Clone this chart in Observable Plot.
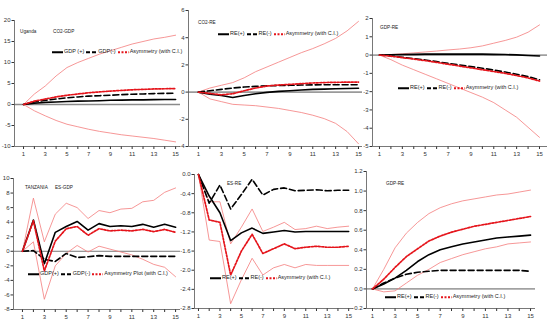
<!DOCTYPE html>
<html><head><meta charset="utf-8">
<script src="https://cdn.jsdelivr.net/npm/d3@7"></script>
<script src="https://cdn.jsdelivr.net/npm/@observablehq/plot@0.6"></script>
<style>
body{margin:0;background:#fff;}
#wrap{position:relative;width:550px;height:328px;overflow:hidden;font-family:"Liberation Sans Narrow","Liberation Sans",Arial,sans-serif;}
#wrap svg.plotsvg{position:absolute;left:0;top:0;}
.lbl{position:absolute;font-size:5.5px;color:#222;white-space:nowrap;line-height:1;transform:translateY(-50%) scaleX(0.85);transform-origin:left center;}
.leg{position:absolute;font-size:5.5px;color:#222;white-space:nowrap;display:flex;align-items:center;line-height:1;transform:translateY(-50%);}
.leg svg{display:block;margin-right:1px;}
.leg span{margin-right:2px;}
</style></head><body><div id="wrap"></div><script>
// ---------- data ----------
const steps = [1,2,3,4,5,6,7,8,9,10,11,12,13,14,15];

// Uganda CO2-GDP
const ugCo2Gdp_pos   = [0,0.3,0.5,0.6,0.7,0.8,0.85,0.9,1.0,1.05,1.1,1.1,1.15,1.2,1.2];
const ugCo2Gdp_neg   = [0,0.6,1.0,1.3,1.6,1.8,2.0,2.1,2.2,2.35,2.45,2.5,2.6,2.65,2.7];
const ugCo2Gdp_asym  = [0,0.8,1.3,1.8,2.2,2.5,2.8,3.0,3.2,3.35,3.5,3.6,3.7,3.75,3.8];
const ugCo2Gdp_upper = [0,2.5,4.4,6.8,8.8,10,11,12,12.8,13.6,14.4,15,15.6,16,16.5];
const ugCo2Gdp_lower = [0,-1.5,-2.7,-3.8,-4.7,-5.3,-5.9,-6.4,-6.8,-7.2,-7.5,-7.8,-8.1,-8.5,-8.9];
const ugCo2Gdp_ticks = [-10,-5,0,5,10,15,20];

// Uganda CO2-RE
const ugCo2Re_pos   = [0,-0.15,-0.25,-0.4,-0.25,-0.12,-0.02,0.05,0.1,0.15,0.2,0.22,0.25,0.27,0.28];
const ugCo2Re_neg   = [0,0.1,0.2,0.3,0.37,0.42,0.46,0.48,0.5,0.52,0.53,0.54,0.54,0.54,0.54];
const ugCo2Re_asym  = [0,-0.1,-0.2,-0.12,0.1,0.3,0.45,0.52,0.57,0.62,0.67,0.7,0.72,0.73,0.74];
const ugCo2Re_upper = [0,0.3,0.5,0.7,1.05,1.5,1.85,2.2,2.55,2.9,3.2,3.55,3.95,4.5,5.2];
const ugCo2Re_lower = [0,-0.5,-0.7,-0.9,-0.95,-1.0,-1.1,-1.2,-1.35,-1.5,-1.7,-1.95,-2.3,-2.9,-3.8];
const ugCo2Re_ticks = [-4,-2,0,2,4,6];

// Uganda GDP-RE
const ugGdpRe_pos   = [0,0.02,0.03,0.04,0.05,0.05,0.05,0.05,0.05,0.05,0.04,0.03,0.01,-0.02,-0.05];
const ugGdpRe_neg   = [0,-0.05,-0.12,-0.2,-0.27,-0.36,-0.45,-0.54,-0.63,-0.72,-0.82,-0.93,-1.05,-1.18,-1.35];
const ugGdpRe_asym  = [0,-0.06,-0.14,-0.22,-0.3,-0.4,-0.5,-0.6,-0.7,-0.8,-0.9,-1.0,-1.12,-1.25,-1.42];
const ugGdpRe_upper = [0,0.03,0.07,0.12,0.17,0.22,0.28,0.33,0.4,0.5,0.65,0.8,0.98,1.25,1.65];
const ugGdpRe_lower = [0,-0.25,-0.55,-0.8,-1.05,-1.3,-1.55,-1.8,-2.05,-2.3,-2.6,-3.0,-3.4,-3.95,-4.5];
const ugGdpRe_ticks = [-5,-4,-3,-2,-1,0,1,2];

// Tanzania ES-GDP
const tzEsGdp_pos   = [0,4.3,-1.7,2.6,3.4,4.1,2.9,3.8,3.4,3.5,3.4,3.7,3.3,3.7,3.3];
const tzEsGdp_neg   = [0,0.1,-1.1,-1.4,-0.3,-0.85,-0.75,-0.6,-0.7,-0.7,-0.7,-0.7,-0.7,-0.7,-0.7];
const tzEsGdp_asym  = [0,4.2,-2.7,1.4,3.1,3.4,2.2,3.1,2.8,2.9,2.8,3.0,2.7,3.0,2.6];
const tzEsGdp_upper = [0,7.3,1.3,5.1,6.6,6.0,4.5,5.6,5.3,5.8,5.9,6.8,7.0,8.1,8.7];
const tzEsGdp_lower = [0,1.3,-6.6,-2.0,-0.3,0.8,-0.1,0.7,0.3,-0.1,-0.5,-1.1,-1.8,-2.2,-3.5];
const tzEsGdp_ticks = [-8,-6,-4,-2,0,2,4,6,8,10];

// Tanzania ES-RE
const tzEsRe_pos   = [0,-0.45,-0.8,-1.38,-1.22,-1.12,-1.23,-1.2,-1.17,-1.2,-1.19,-1.19,-1.19,-1.19,-1.19];
const tzEsRe_neg   = [0,-0.6,-0.22,-0.72,-0.42,-0.1,-0.43,-0.31,-0.28,-0.34,-0.33,-0.32,-0.34,-0.33,-0.33];
const tzEsRe_asym  = [0,-0.95,-1.0,-2.1,-1.6,-1.25,-1.65,-1.55,-1.45,-1.55,-1.52,-1.5,-1.52,-1.52,-1.5];
const tzEsRe_upper = [0,-0.57,-0.57,-1.45,-1.1,-0.72,-1.19,-1.1,-1.0,-1.15,-1.13,-1.08,-1.13,-1.1,-1.08];
const tzEsRe_lower = [0,-1.37,-1.4,-2.7,-2.2,-1.75,-2.1,-1.95,-1.88,-1.95,-1.88,-1.9,-1.9,-1.9,-1.9];
const tzEsRe_ticks = [-2.8,-2.4,-2.0,-1.6,-1.2,-0.8,-0.4,0.0];

// Tanzania GDP-RE
const tzGdpRe_pos   = [0,0.05,0.11,0.19,0.28,0.35,0.4,0.43,0.46,0.48,0.5,0.52,0.53,0.54,0.55];
const tzGdpRe_neg   = [0,0.06,0.11,0.15,0.17,0.18,0.19,0.19,0.19,0.19,0.19,0.19,0.19,0.19,0.18];
const tzGdpRe_asym  = [0,0.1,0.22,0.33,0.41,0.49,0.54,0.58,0.61,0.64,0.66,0.68,0.7,0.72,0.74];
const tzGdpRe_upper = [0,0.2,0.42,0.57,0.68,0.77,0.83,0.87,0.9,0.92,0.94,0.96,0.97,0.99,1.01];
const tzGdpRe_lower = [0,-0.03,-0.02,0.06,0.14,0.2,0.27,0.31,0.35,0.38,0.41,0.43,0.46,0.47,0.48];
const tzGdpRe_ticks = [-0.2,0,0.2,0.4,0.6,0.8,1.0,1.2];

// ---------- layout / style ----------
const W = 550, H = 328;
const FONT = '"Liberation Sans Narrow","Liberation Sans",Arial,sans-serif';
const C_POS = "#000", C_ASYM = "#e5141b", C_CI = "#f47c7c";
const DASH_NEG = "6,3", DASH_ASYM = "2,1.5";

const panels = [
  {series:[ugCo2Gdp_pos,ugCo2Gdp_neg,ugCo2Gdp_asym,ugCo2Gdp_upper,ugCo2Gdp_lower], ticks:ugCo2Gdp_ticks,
   y:[-10,20], x:[0.17,15.45], frame:{l:14,r:180,t:20,b:146}, zero:{c:"#8a8a8a",w:1.6}, fmt:d=>String(d),
   labels:[["Uganda",20,32],["CO2-GDP",53,32]],
   legend:{x:52,y:52,names:["GDP (+)","GDP(-)","Asymmetry (with C.I.)"]}},
  {series:[ugCo2Re_pos,ugCo2Re_neg,ugCo2Re_asym,ugCo2Re_upper,ugCo2Re_lower], ticks:ugCo2Re_ticks,
   y:[-4,6], x:[0.13,15.35], frame:{l:188,r:362,t:10,b:146}, zero:{c:"#9a9a9a",w:1.6}, fmt:d=>String(d),
   labels:[["CO2-RE",198,23]],
   legend:{x:218,y:34,names:["RE(+)","RE(-)","Asymmetry (with C.I.)"]}},
  {series:[ugGdpRe_pos,ugGdpRe_neg,ugGdpRe_asym,ugGdpRe_upper,ugGdpRe_lower], ticks:ugGdpRe_ticks,
   y:[-5,2], x:[0.39,15.7], frame:{l:372,r:547,t:18,b:146}, zero:{c:"#a0a0a0",w:1.8}, fmt:d=>String(d),
   labels:[["GDP-RE",380,28]],
   legend:{x:398,y:88,names:["RE(+)","RE(-)","Asymmetry (with C.I.)"]}},
  {series:[tzEsGdp_pos,tzEsGdp_neg,tzEsGdp_asym,tzEsGdp_upper,tzEsGdp_lower], ticks:tzEsGdp_ticks,
   y:[-8,10], x:[0.18,15.45], frame:{l:13,r:180,t:178,b:309}, zero:{c:"#555",w:0.8}, fmt:d=>String(d),
   labels:[["TANZANIA",25,188],["ES-GDP",55,188]],
   legend:{x:28,y:274,names:["GDP(+)","GDP(-)","Asymmetry Plot (with C.I.)"]}},
  {series:[tzEsRe_pos,tzEsRe_neg,tzEsRe_asym,tzEsRe_upper,tzEsRe_lower], ticks:tzEsRe_ticks,
   y:[-2.8,0], x:[0.63,15.45], frame:{l:194,r:353,t:174,b:308}, zero:null, fmt:d=>d.toFixed(1),
   labels:[["ES-RE",227,184]],
   legend:{x:210,y:278,names:["RE(+)","RE(-)","Asymmetry (with C.I.)"]}},
  {series:[tzGdpRe_pos,tzGdpRe_neg,tzGdpRe_asym,tzGdpRe_upper,tzGdpRe_lower], ticks:tzGdpRe_ticks,
   y:[-0.2,1.2], x:[0.47,15.44], frame:{l:366,r:535,t:171,b:308}, zero:{c:"#333",w:0.8}, fmt:d=>d.toFixed(1),
   labels:[["GDP-RE",386,184]],
   legend:{x:385,y:297,names:["RE(+)","RE(-)","Asymmetry (with C.I.)"]}}
];

const wrap = document.getElementById("wrap");
const rowsOf = arr => steps.map((s,i)=>({step:s, v:arr[i]}));

for (const p of panels) {
  const [pos,neg,asym,upper,lower] = p.series;
  const marks = [];
  if (p.zero) marks.push(Plot.ruleY([0], {stroke:p.zero.c, strokeWidth:p.zero.w}));
  marks.push(
    Plot.line(rowsOf(upper), {x:"step", y:"v", stroke:C_CI, strokeWidth:0.8}),
    Plot.line(rowsOf(lower), {x:"step", y:"v", stroke:C_CI, strokeWidth:0.8}),
    Plot.line(rowsOf(pos),   {x:"step", y:"v", stroke:C_POS, strokeWidth:1.6}),
    Plot.line(rowsOf(neg),   {x:"step", y:"v", stroke:C_POS, strokeWidth:1.6, strokeDasharray:DASH_NEG}),
    Plot.line(rowsOf(asym),  {x:"step", y:"v", stroke:C_ASYM, strokeWidth:1.7, strokeDasharray:DASH_ASYM}),
    Plot.ruleX([p.x[0]], {stroke:"#555", strokeWidth:0.8}),
    Plot.ruleY([p.y[0]], {stroke:"#555", strokeWidth:0.8})
  );
  const svg = Plot.plot({
    width:W, height:H,
    marginLeft:p.frame.l, marginRight:W-p.frame.r, marginTop:p.frame.t, marginBottom:H-p.frame.b,
    style:{background:"transparent", fontFamily:FONT, fontSize:"6px", color:"#333", overflow:"visible"},
    x:{domain:p.x, ticks:steps, tickFormat:d=> d%2 ? String(d) : "", tickSize:3, tickPadding:2, label:null},
    y:{domain:p.y, ticks:p.ticks, tickFormat:p.fmt, tickSize:2.5, tickPadding:1.5, label:null},
    marks
  });
  svg.classList.add("plotsvg");
  wrap.appendChild(svg);

  for (const [t,x,y] of p.labels) {
    const d = document.createElement("div");
    d.className = "lbl"; d.textContent = t;
    d.style.left = x+"px"; d.style.top = y+"px";
    wrap.appendChild(d);
  }
  const lg = document.createElement("div");
  lg.className = "leg"; lg.style.left = p.legend.x+"px"; lg.style.top = p.legend.y+"px";
  const styles = [
    {c:C_POS, dash:null}, {c:C_POS, dash:"4,2"}, {c:C_ASYM, dash:DASH_ASYM}
  ];
  p.legend.names.forEach((n,i)=>{
    const s = document.createElementNS("http://www.w3.org/2000/svg","svg");
    s.setAttribute("width","11"); s.setAttribute("height","4");
    const ln = document.createElementNS("http://www.w3.org/2000/svg","line");
    ln.setAttribute("x1","0"); ln.setAttribute("x2","11"); ln.setAttribute("y1","2"); ln.setAttribute("y2","2");
    ln.setAttribute("stroke", styles[i].c); ln.setAttribute("stroke-width","1.8");
    if (styles[i].dash) ln.setAttribute("stroke-dasharray", styles[i].dash);
    s.appendChild(ln);
    const sp = document.createElement("span"); sp.textContent = n;
    lg.appendChild(s); lg.appendChild(sp);
  });
  wrap.appendChild(lg);
}
</script></body></html>
